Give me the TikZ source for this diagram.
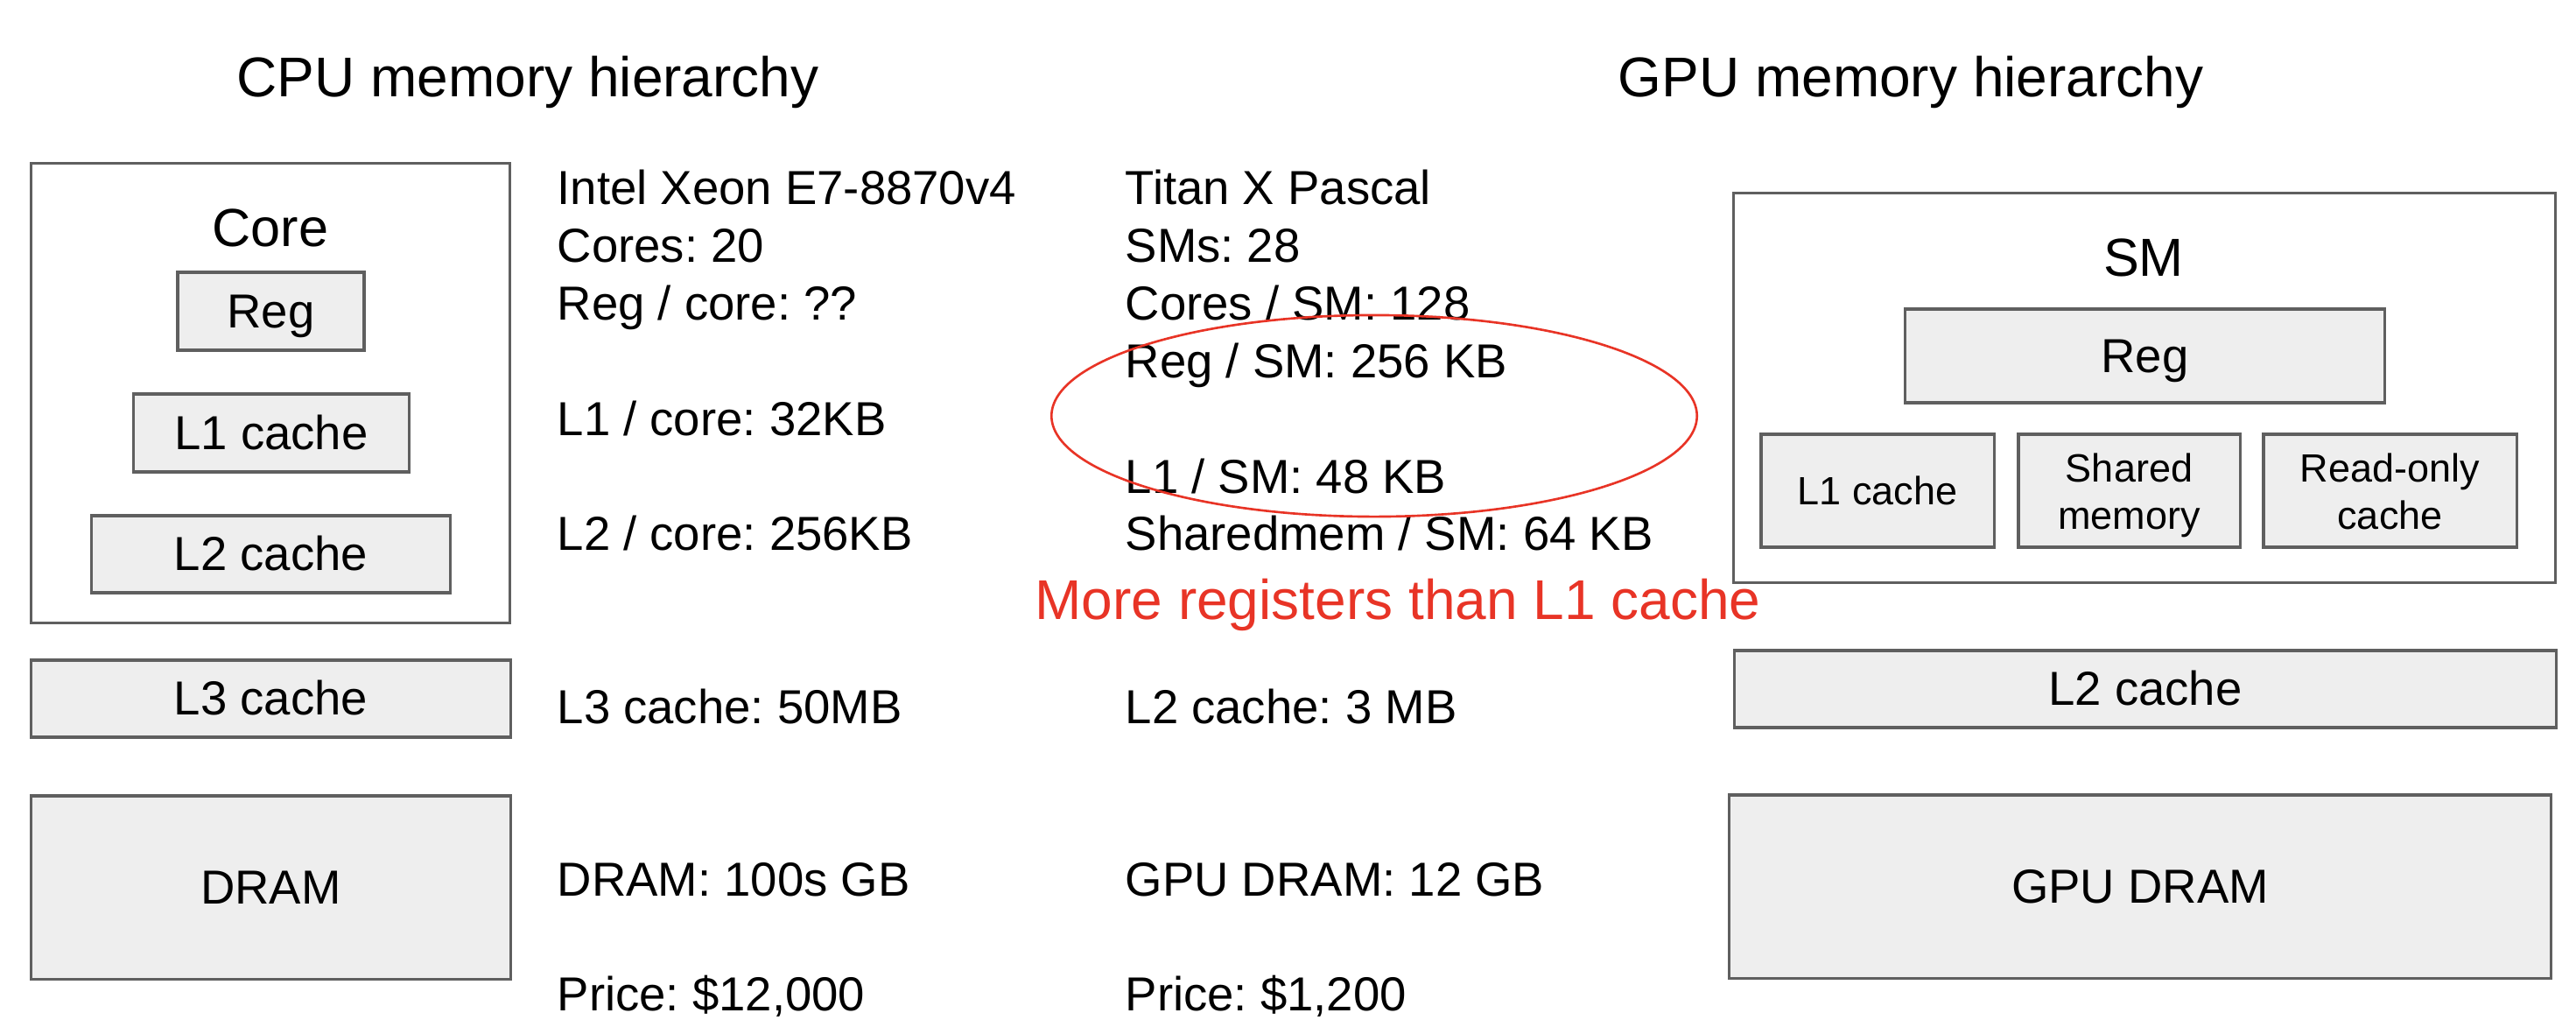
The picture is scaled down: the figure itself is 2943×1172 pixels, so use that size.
\documentclass[tikz,border=0pt]{standalone}
\usepackage{fontspec}
\setmainfont{Liberation Sans}
\usepackage{tikz}
\usetikzlibrary{shapes}
\usetikzlibrary{positioning}
\frenchspacing
\definecolor{myred}{RGB}{232,52,38}
\definecolor{myline}{RGB}{95,95,95}
\definecolor{myfill}{RGB}{238,238,238}
\tikzset{
    mybox/.style = {rectangle, line width=0.9pt, draw=myline, fill=myfill, inner sep=0pt, align=center, font=\fontsize{15.5}{18.6}\selectfont, text height=14pt, text depth=3.3pt},
    myboxs/.style = {rectangle, line width=0.9pt, draw=myline, fill=myfill, inner sep=0pt, align=center, font=\fontsize{12.8}{15.4}\selectfont},
    myframe/.style = {rectangle, line width=0.9pt, draw=myline, inner sep=0pt},
    mytext/.style = {anchor=base west, inner sep=0pt, font=\fontsize{15.5}{18.6}\selectfont},
    mytitle/.style = {anchor=base, inner sep=0pt, font=\fontsize{18.2}{21.8}\selectfont},
    mylabel/.style = {anchor=base, inner sep=0pt, font=\fontsize{17.4}{20.9}\selectfont},
    mynoter/.style = {anchor=base, inner sep=0pt, text=myred, font=\fontsize{18.2}{21.8}\selectfont},
    myoval/.style = {ellipse, line width=0.75pt, draw=myred, inner sep=0pt}
}
\begin{document}
\begin{tikzpicture}[x=0.01cm,y=-0.01cm]
%
\path[use as bounding box] (0,0) rectangle (2943,1172);
%
\node[mytitle] at (603,110) (cputitle) {CPU memory hierarchy};
\node[mytitle] at (2183,110) (gputitle) {GPU memory hierarchy};
%
\node[myframe,minimum width=5.46cm,minimum height=5.24cm] at (309,449) (core) {};
\node[mylabel] at (309,281) (corelabel) {Core};
\node[mybox,minimum width=2.13cm,minimum height=0.89cm] at (309.5,355.5) (regc) {Reg};
\node[mybox,minimum width=3.14cm,minimum height=0.89cm] at (310,494.5) (l1c) {L1 cache};
\node[mybox,minimum width=4.09cm,minimum height=0.88cm] at (309.5,633) (l2c) {L2 cache};
\node[mybox,minimum width=5.47cm,minimum height=0.88cm] at (309.5,798) (l3c) {L3 cache};
\node[mybox,minimum width=5.47cm,minimum height=2.09cm] at (309.5,1013.5) (dramc) {DRAM};
%
\node[mytext] at (636,233) (cpu0) {Intel Xeon E7-8870v4};
\node[mytext] at (636,299) (cpu1) {Cores: 20};
\node[mytext] at (636,365) (cpu2) {Reg / core: ??};
\node[mytext] at (636,497) (cpu3) {L1 / core: 32KB};
\node[mytext] at (636,628) (cpu4) {L2 / core: 256KB};
\node[mytext] at (636,826) (cpu5) {L3 cache: 50MB};
\node[mytext] at (636,1023) (cpu6) {DRAM: 100s GB};
\node[mytext] at (636,1154) (cpu7) {Price: \$12,000};
%
\node[mytext] at (1285,233) (gpu0) {Titan X Pascal};
\node[mytext] at (1285,299) (gpu1) {SMs: 28};
\node[mytext] at (1285,365) (gpu2) {Cores / SM: 128};
\node[mytext] at (1285,431) (gpu3) {Reg / SM: 256 KB};
\node[mytext] at (1285,563) (gpu4) {L1 / SM: 48 KB};
\node[mytext] at (1285,628) (gpu5) {Sharedmem / SM: 64 KB};
\node[mytext] at (1285,826) (gpu6) {L2 cache: 3 MB};
\node[mytext] at (1285,1023) (gpu7) {GPU DRAM: 12 GB};
\node[mytext] at (1285,1154) (gpu8) {Price: \$1,200};
%
\node[myoval,minimum width=7.37cm,minimum height=2.30cm] at (1570,475) (oval) {};
\node[mynoter] at (1597,707) (note) {More registers than L1 cache};
%
\node[myframe,minimum width=9.38cm,minimum height=4.44cm] at (2450,443) (sm) {};
\node[mylabel] at (2449,315) (smlabel) {SM};
\node[mybox,minimum width=5.47cm,minimum height=1.07cm] at (2450.5,406.5) (regg) {Reg};
\node[myboxs,minimum width=2.66cm,minimum height=1.29cm] at (2145,560.5) (l1g) {L1 cache};
\node[myboxs,minimum width=2.53cm,minimum height=1.29cm] at (2432.5,560.5) (shm) {\rule{0pt}{12.1pt}Shared\\memory};
\node[myboxs,minimum width=2.89cm,minimum height=1.29cm] at (2730.5,560.5) (roc) {\rule{0pt}{12.1pt}Read-only\\cache\vphantom{y}};
\node[mybox,minimum width=9.38cm,minimum height=0.88cm] at (2451,787) (l2g) {L2 cache};
\node[mybox,minimum width=9.38cm,minimum height=2.09cm] at (2445,1012.5) (dramg) {GPU DRAM};

\end{tikzpicture}
\end{document}
